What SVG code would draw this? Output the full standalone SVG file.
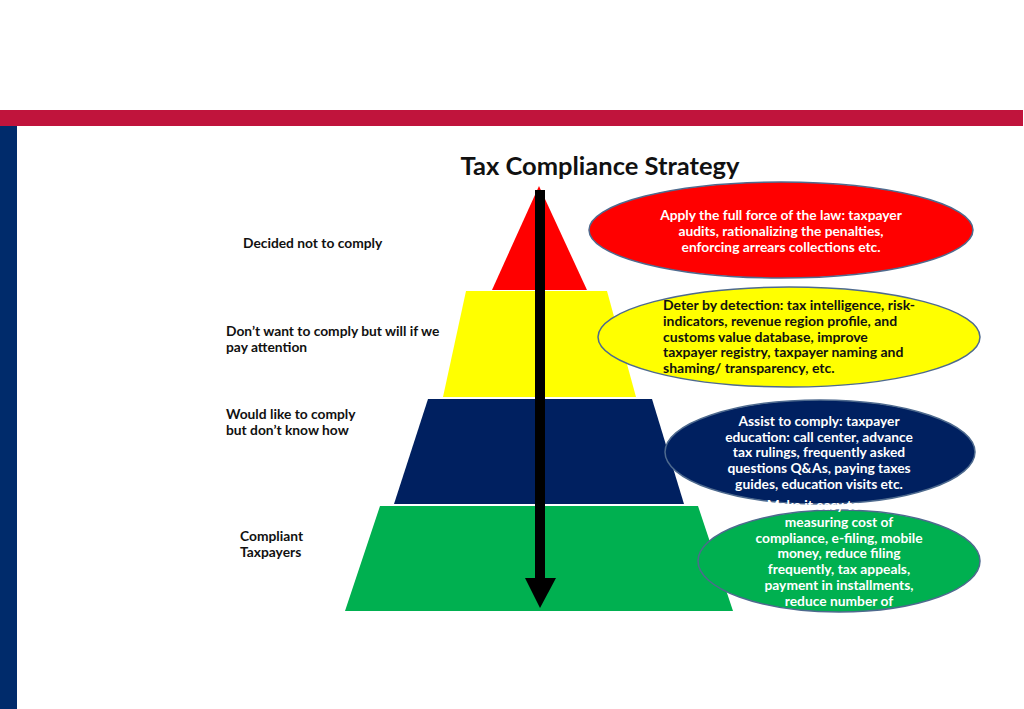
<svg xmlns="http://www.w3.org/2000/svg" width="1024" height="709" viewBox="0 0 1024 709">
<style>
.lbl{font-family:Lato,"Open Sans","Liberation Sans",sans-serif;font-weight:bold;font-size:13.8px;fill:#111}
.wt{font-family:Lato,"Open Sans","Liberation Sans",sans-serif;font-weight:bold;font-size:13.8px;fill:#fff;text-anchor:middle}
.bt{font-family:Lato,"Open Sans","Liberation Sans",sans-serif;font-weight:bold;font-size:14px;fill:#111}
.ell{stroke:#4e6a8e;stroke-width:1.5}
</style>
<rect x="0" y="0" width="1024" height="709" fill="#fff"/>
<rect x="0" y="110" width="1023" height="16" fill="#C0143C"/>
<rect x="0" y="126" width="17" height="583" fill="#002B6B"/>
<text x="600" y="175" text-anchor="middle" font-family="Lato,'Open Sans','Liberation Sans',sans-serif" font-weight="bold" font-size="25.5" fill="#111">Tax Compliance Strategy</text>

<g id="level-red">
<polygon points="539,186 587,290 492,290" fill="#FF0000"/>
<text class="lbl" x="243" y="248">Decided not to comply</text>
</g>
<g id="level-yellow">
<polygon points="466,291 607,291 636,397 443,397" fill="#FFFF00"/>
<text class="lbl" x="226" y="336">Don’t want to comply but will if we</text>
<text class="lbl" x="226" y="352">pay attention</text>
</g>
<g id="level-navy">
<polygon points="428,399 652,399 684,504 394,504" fill="#002060"/>
<text class="lbl" x="226" y="419">Would like to comply</text>
<text class="lbl" x="226" y="435">but don’t know how</text>
</g>
<g id="level-green">
<polygon points="380,506 698,506 733,611 345,611" fill="#00B050"/>
<text class="lbl" x="240" y="541">Compliant</text>
<text class="lbl" x="240" y="557">Taxpayers</text>
</g>

<g id="connectors">
<rect x="535" y="190" width="10" height="390" fill="#000"/>
<polygon points="525,578 556,578 540,608" fill="#000"/>
</g>

<g id="strategy-red">
<ellipse class="ell" cx="781" cy="230" rx="192" ry="48" fill="#FF0000"/>
<text class="wt" x="781" y="220">Apply the full force of the law: taxpayer</text>
<text class="wt" x="781" y="236">audits, rationalizing the penalties,</text>
<text class="wt" x="781" y="252">enforcing arrears collections etc.</text>
</g>
<g id="strategy-yellow">
<ellipse class="ell" cx="789" cy="337" rx="191" ry="50" fill="#FFFF00"/>
<text class="bt" x="663" y="310">Deter by detection: tax intelligence, risk-</text>
<text class="bt" x="663" y="326">indicators, revenue region profile, and</text>
<text class="bt" x="663" y="342">customs value database, improve</text>
<text class="bt" x="663" y="357">taxpayer registry, taxpayer naming and</text>
<text class="bt" x="663" y="373">shaming/ transparency, etc.</text>
</g>
<g id="strategy-navy">
<ellipse class="ell" cx="820" cy="452" rx="155" ry="52" fill="#002060"/>
<text class="wt" x="819" y="426">Assist to comply: taxpayer</text>
<text class="wt" x="819" y="442">education: call center, advance</text>
<text class="wt" x="819" y="457">tax rulings, frequently asked</text>
<text class="wt" x="819" y="473">questions Q&amp;As, paying taxes</text>
<text class="wt" x="819" y="489">guides,  education visits etc.</text>
</g>
<g id="strategy-green">
<ellipse class="ell" cx="839" cy="561" rx="141" ry="51" fill="#00B050"/>
<text class="wt" x="839" y="510">Make it easy to comply:</text>
<text class="wt" x="839" y="527">measuring cost of</text>
<text class="wt" x="839" y="543">compliance, e-filing, mobile</text>
<text class="wt" x="839" y="558">money, reduce filing</text>
<text class="wt" x="839" y="574">frequently, tax  appeals,</text>
<text class="wt" x="839" y="590">payment in installments,</text>
<text class="wt" x="839" y="606">reduce number of</text>
</g>
</svg>
